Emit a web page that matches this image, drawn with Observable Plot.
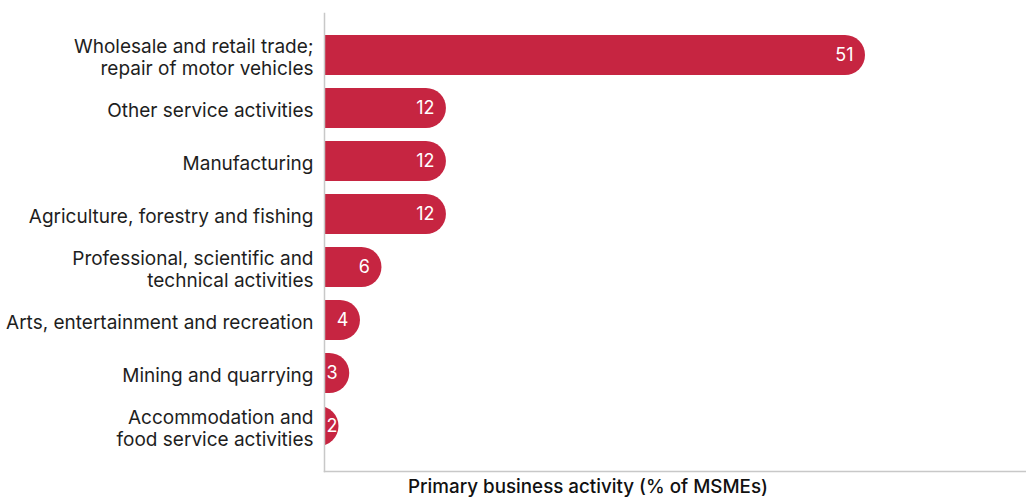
<!DOCTYPE html>
<html>
<head>
<meta charset="utf-8">
<script src="https://cdn.jsdelivr.net/npm/d3@7"></script>
<script src="https://cdn.jsdelivr.net/npm/@observablehq/plot@0.6"></script>
<style>
  html, body { margin: 0; padding: 0; background: #ffffff; }
</style>
</head>
<body>
<div id="chart"></div>
<script>
const categories = [
  "Wholesale and retail trade;\nrepair of motor vehicles",
  "Other service activities",
  "Manufacturing",
  "Agriculture, forestry and fishing",
  "Professional, scientific and\ntechnical activities",
  "Arts, entertainment and recreation",
  "Mining and quarrying",
  "Accommodation and\nfood service activities"
];
const values = [51, 12, 12, 12, 6, 4, 3, 2];
const axisTitle = "Primary business activity (% of MSMEs)";

const data = categories.map((c, i) => ({category: c, value: values[i]}));

const chart = Plot.plot({
  width: 1026,
  height: 498,
  marginLeft: 324,
  marginRight: 1,
  marginTop: 13,
  marginBottom: 27,
  style: {fontFamily: "Inter, 'Noto Sans', sans-serif", fontSize: "19px", color: "#1e1e1e", background: "#ffffff"},
  x: {domain: [0, 51], range: [317, 865], axis: null},
  y: {domain: categories, paddingInner: 0.243, paddingOuter: 0.39, align: 0.47, label: null},
  marks: [
    Plot.barX(data, {y: "category", x1: 0, x2: "value", fill: "#c62541", rx: 20, insetLeft: -25, clip: true}),
    Plot.frame({anchor: "left", stroke: "#c8c8c8", strokeWidth: 1.5}),
    Plot.frame({anchor: "bottom", stroke: "#c8c8c8", strokeWidth: 1.5}),
    Plot.axisY({tickSize: 0, tickPadding: 11, label: null, lineHeight: 1.17, fontSize: 19, fill: "#1e1e1e", dy: 1}),
    Plot.text(data, {filter: d => d.value >= 3, x: "value", y: "category", text: d => String(d.value), textAnchor: "end", dx: -12, fill: "#ffffff", fontSize: 18}),
    Plot.text(data, {filter: d => d.value < 3, x: 0, y: "category", text: d => String(d.value), textAnchor: "start", dx: 9, fill: "#ffffff", fontSize: 18}),
    Plot.text([axisTitle], {frameAnchor: "bottom", dy: 21, dx: -87, fontWeight: 500, fontSize: 18.8, fill: "#111111"})
  ]
});
document.getElementById("chart").appendChild(chart);
</script>
</body>
</html>
